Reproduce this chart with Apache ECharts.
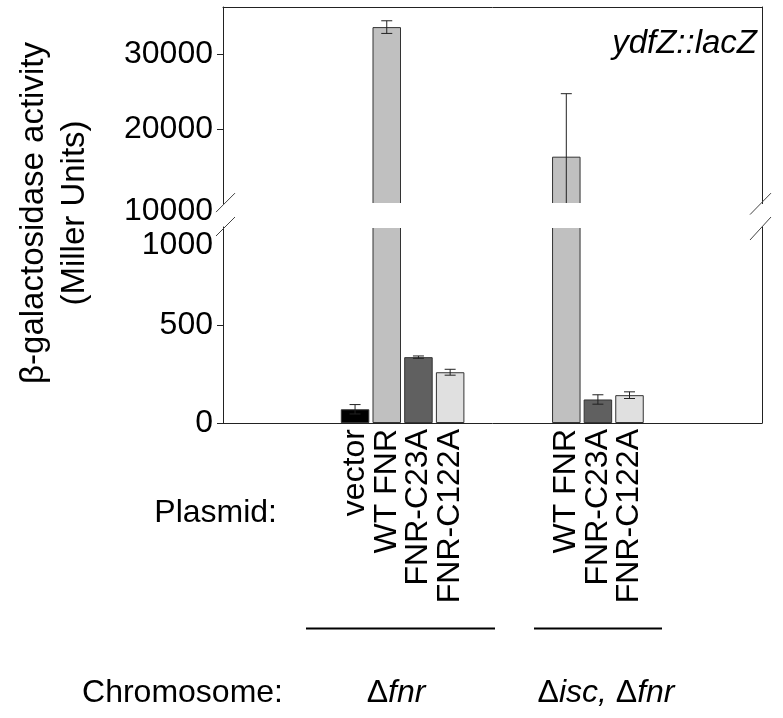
<!DOCTYPE html>
<html>
<head>
<meta charset="utf-8">
<script src="https://cdn.jsdelivr.net/npm/echarts@6/dist/echarts.min.js"></script>
<style>html,body{margin:0;padding:0;background:#fff}#c{width:783px;height:718px}</style>
</head>
<body>
<div id="c"></div>
<script>
// ---- data ----
const group1Categories = ['vector', 'WT FNR', 'FNR-C23A', 'FNR-C122A'];
const group1Values = [70, 33700, 336, 259];
const group1Errors = [24, 850, 6, 15];
const group2Categories = ['WT FNR', 'FNR-C23A', 'FNR-C122A'];
const group2Values = [16300, 120, 142];
const group2Errors = [8460, 24, 17];
const upperTickLabels = [10000, 20000, 30000];
const lowerTickLabels = [0, 500, 1000];
const upperRange = [10000, 36400];
const lowerRange = [0, 1000];

// ---- styles ----
const group1Colors = ['#000000', '#c0c0c0', '#606060', '#e0e0e0'];
const group2Colors = ['#c0c0c0', '#606060', '#e0e0e0'];
const FONT = "'Liberation Sans', Arial, sans-serif";
const L = 223, R = 762, UT = 7, UB = 203.6, LT = 227, LB = 423;
const G1L = 339.2, G1W = 126.8, G2L = 550.5, G2W = 94.8;

const chart = echarts.init(document.getElementById('c'), null, {renderer: 'canvas'});

function gridBox(left, width, top, bottom) {
  return {left: left, top: top, width: width, height: bottom - top, containLabel: false, outerBoundsMode: 'none', show: false};
}

function errRender(params, api) {
  const x = api.value(0), v = api.value(1), e = api.value(2);
  const t = api.coord([x, v + e]);
  const b = api.coord([x, v - e]);
  const hw = 5.5;
  const st = {stroke: '#222', lineWidth: 1};
  return {type: 'group', children: [
    {type: 'line', shape: {x1: t[0], y1: t[1], x2: b[0], y2: b[1]}, style: st},
    {type: 'line', shape: {x1: t[0] - hw, y1: t[1], x2: t[0] + hw, y2: t[1]}, style: st},
    {type: 'line', shape: {x1: b[0] - hw, y1: b[1], x2: b[0] + hw, y2: b[1]}, style: st}
  ]};
}

function barData(values, colors) {
  return values.map((v, i) => ({value: v, itemStyle: {color: colors[i]}}));
}
function errData(values, errs) {
  return values.map((v, i) => [i, v, errs[i]]);
}

const lineStyle = {color: '#222', width: 1};
const hiddenY = (gi, range) => ({type: 'value', gridIndex: gi, min: range[0], max: range[1], show: false, splitLine: {show: false}});
const richTxt = {n: {fontSize: 32, fontFamily: FONT, fill: '#000'}, i: {fontSize: 32, fontFamily: FONT, fontStyle: 'italic', fill: '#000'}};

const option = {
  backgroundColor: '#fff',
  animation: false,
  textStyle: {fontFamily: FONT},
  grid: [
    gridBox(L, R - L, UT, UB),
    gridBox(L, R - L, LT, LB),
    gridBox(G1L, G1W, UT, UB),
    gridBox(G1L, G1W, LT, LB),
    gridBox(G2L, G2W, UT, UB),
    gridBox(G2L, G2W, LT, LB)
  ],
  xAxis: [
    {type: 'value', gridIndex: 0, position: 'top', min: 0, max: 1, axisLine: {show: true, onZero: false, lineStyle: lineStyle}, axisTick: {show: false}, axisLabel: {show: false}, splitLine: {show: false}},
    {type: 'value', gridIndex: 1, position: 'bottom', min: 0, max: 1, axisLine: {show: true, onZero: false, lineStyle: lineStyle}, axisTick: {show: false}, axisLabel: {show: false}, splitLine: {show: false}},
    {type: 'category', gridIndex: 2, data: group1Categories, show: false},
    {type: 'category', gridIndex: 3, data: group1Categories, axisLine: {show: false}, axisTick: {show: false},
      axisLabel: {rotate: 90, interval: 0, margin: 6, fontSize: 32, color: '#000', fontFamily: FONT}},
    {type: 'category', gridIndex: 4, data: group2Categories, show: false},
    {type: 'category', gridIndex: 5, data: group2Categories, axisLine: {show: false}, axisTick: {show: false},
      axisLabel: {rotate: 90, interval: 0, margin: 6, fontSize: 32, color: '#000', fontFamily: FONT}}
  ],
  yAxis: [
    {type: 'value', gridIndex: 0, min: upperRange[0], max: upperRange[1], position: 'left',
      axisLine: {show: true, onZero: false, lineStyle: lineStyle},
      axisTick: {show: true, length: 6, lineStyle: lineStyle, customValues: upperTickLabels.slice(1)},
      axisLabel: {customValues: upperTickLabels, margin: 10, fontSize: 32, color: '#000', fontFamily: FONT,
        formatter: v => v === upperRange[0] ? '{s|' + v + '}' : '' + v,
        rich: {s: {fontSize: 32, color: '#000', fontFamily: FONT, padding: [16, 0, 0, 0]}}},
      splitLine: {show: false}},
    {type: 'value', gridIndex: 0, min: 0, max: 1, position: 'right', axisLine: {show: true, onZero: false, lineStyle: lineStyle}, axisTick: {show: false}, axisLabel: {show: false}, splitLine: {show: false}},
    {type: 'value', gridIndex: 1, min: lowerRange[0], max: lowerRange[1], position: 'left',
      axisLine: {show: true, onZero: false, lineStyle: lineStyle},
      axisTick: {show: true, length: 6, lineStyle: lineStyle, customValues: lowerTickLabels.slice(0, 2)},
      axisLabel: {customValues: lowerTickLabels, margin: 10, fontSize: 32, color: '#000', fontFamily: FONT,
        formatter: v => v === lowerRange[1] ? '{s|' + v + '}' : '' + v,
        rich: {s: {fontSize: 32, color: '#000', fontFamily: FONT, padding: [36, 0, 0, 0]}}},
      splitLine: {show: false}},
    {type: 'value', gridIndex: 1, min: 0, max: 1, position: 'right', axisLine: {show: true, onZero: false, lineStyle: lineStyle}, axisTick: {show: false}, axisLabel: {show: false}, splitLine: {show: false}},
    hiddenY(2, upperRange),
    hiddenY(3, lowerRange),
    hiddenY(4, upperRange),
    hiddenY(5, lowerRange)
  ],
  series: [
    {type: 'bar', xAxisIndex: 2, yAxisIndex: 4, barWidth: 28.5, clip: true, data: barData(group1Values, group1Colors), itemStyle: {borderColor: '#333', borderWidth: 1}},
    {type: 'bar', xAxisIndex: 3, yAxisIndex: 5, barWidth: 28.5, clip: true, data: barData(group1Values, group1Colors), itemStyle: {borderColor: '#333', borderWidth: 1}},
    {type: 'bar', xAxisIndex: 4, yAxisIndex: 6, barWidth: 28.5, clip: true, data: barData(group2Values, group2Colors), itemStyle: {borderColor: '#333', borderWidth: 1}},
    {type: 'bar', xAxisIndex: 5, yAxisIndex: 7, barWidth: 28.5, clip: true, data: barData(group2Values, group2Colors), itemStyle: {borderColor: '#333', borderWidth: 1}},
    {type: 'custom', xAxisIndex: 2, yAxisIndex: 4, clip: true, renderItem: errRender, data: errData(group1Values, group1Errors), z: 5},
    {type: 'custom', xAxisIndex: 3, yAxisIndex: 5, clip: true, renderItem: errRender, data: errData(group1Values, group1Errors), z: 5},
    {type: 'custom', xAxisIndex: 4, yAxisIndex: 6, clip: true, renderItem: errRender, data: errData(group2Values, group2Errors), z: 5},
    {type: 'custom', xAxisIndex: 5, yAxisIndex: 7, clip: true, renderItem: errRender, data: errData(group2Values, group2Errors), z: 5}
  ],
  graphic: [
    {type: 'rect', z: 100, shape: {x: L + 1, y: UB - 0.6, width: R - L - 2, height: LT - UB + 1.6}, style: {fill: '#fff'}},
    {type: 'line', z: 101, shape: {x1: L - 7, y1: UB + 8.5, x2: L + 12, y2: UB - 10.5}, style: {stroke: '#444', lineWidth: 1}},
    {type: 'line', z: 101, shape: {x1: L - 7, y1: LT + 9, x2: L + 12, y2: LT - 10}, style: {stroke: '#444', lineWidth: 1}},
    {type: 'line', z: 101, shape: {x1: R - 12, y1: UB + 11, x2: R + 9, y2: UB - 10.5}, style: {stroke: '#444', lineWidth: 1}},
    {type: 'line', z: 101, shape: {x1: R - 12, y1: LT + 13, x2: R + 9, y2: LT - 10}, style: {stroke: '#444', lineWidth: 1}},
    {type: 'text', z: 101, x: 757, y: 44, style: {text: 'ydfZ::lacZ', font: 'italic 33px ' + FONT, fill: '#000', textAlign: 'right', textVerticalAlign: 'middle'}},
    {type: 'text', z: 101, x: 54, y: 213, rotation: Math.PI / 2,
      style: {text: 'β-galactosidase activity\n(Miller Units)', font: '33px ' + FONT, fill: '#000', textAlign: 'center', textVerticalAlign: 'middle', lineHeight: 41}},
    {type: 'text', z: 101, x: 277, y: 513, style: {text: 'Plasmid:', font: '32px ' + FONT, fill: '#000', textAlign: 'right', textVerticalAlign: 'middle'}},
    {type: 'text', z: 101, x: 283, y: 693, style: {text: 'Chromosome:', font: '32px ' + FONT, fill: '#000', textAlign: 'right', textVerticalAlign: 'middle'}},
    {type: 'line', z: 101, shape: {x1: 306, y1: 628.5, x2: 495, y2: 628.5}, style: {stroke: '#000', lineWidth: 2}},
    {type: 'line', z: 101, shape: {x1: 534, y1: 628.5, x2: 662, y2: 628.5}, style: {stroke: '#000', lineWidth: 2}},
    {type: 'text', z: 101, x: 396, y: 693,
      style: {text: '{n|Δ}{i|fnr}', textAlign: 'center', textVerticalAlign: 'middle', rich: richTxt}},
    {type: 'text', z: 101, x: 606, y: 693,
      style: {text: '{n|Δ}{i|isc,}{n|\u00a0Δ}{i|fnr}', textAlign: 'center', textVerticalAlign: 'middle', rich: richTxt}}
  ]
};
chart.setOption(option);
</script>
</body>
</html>
